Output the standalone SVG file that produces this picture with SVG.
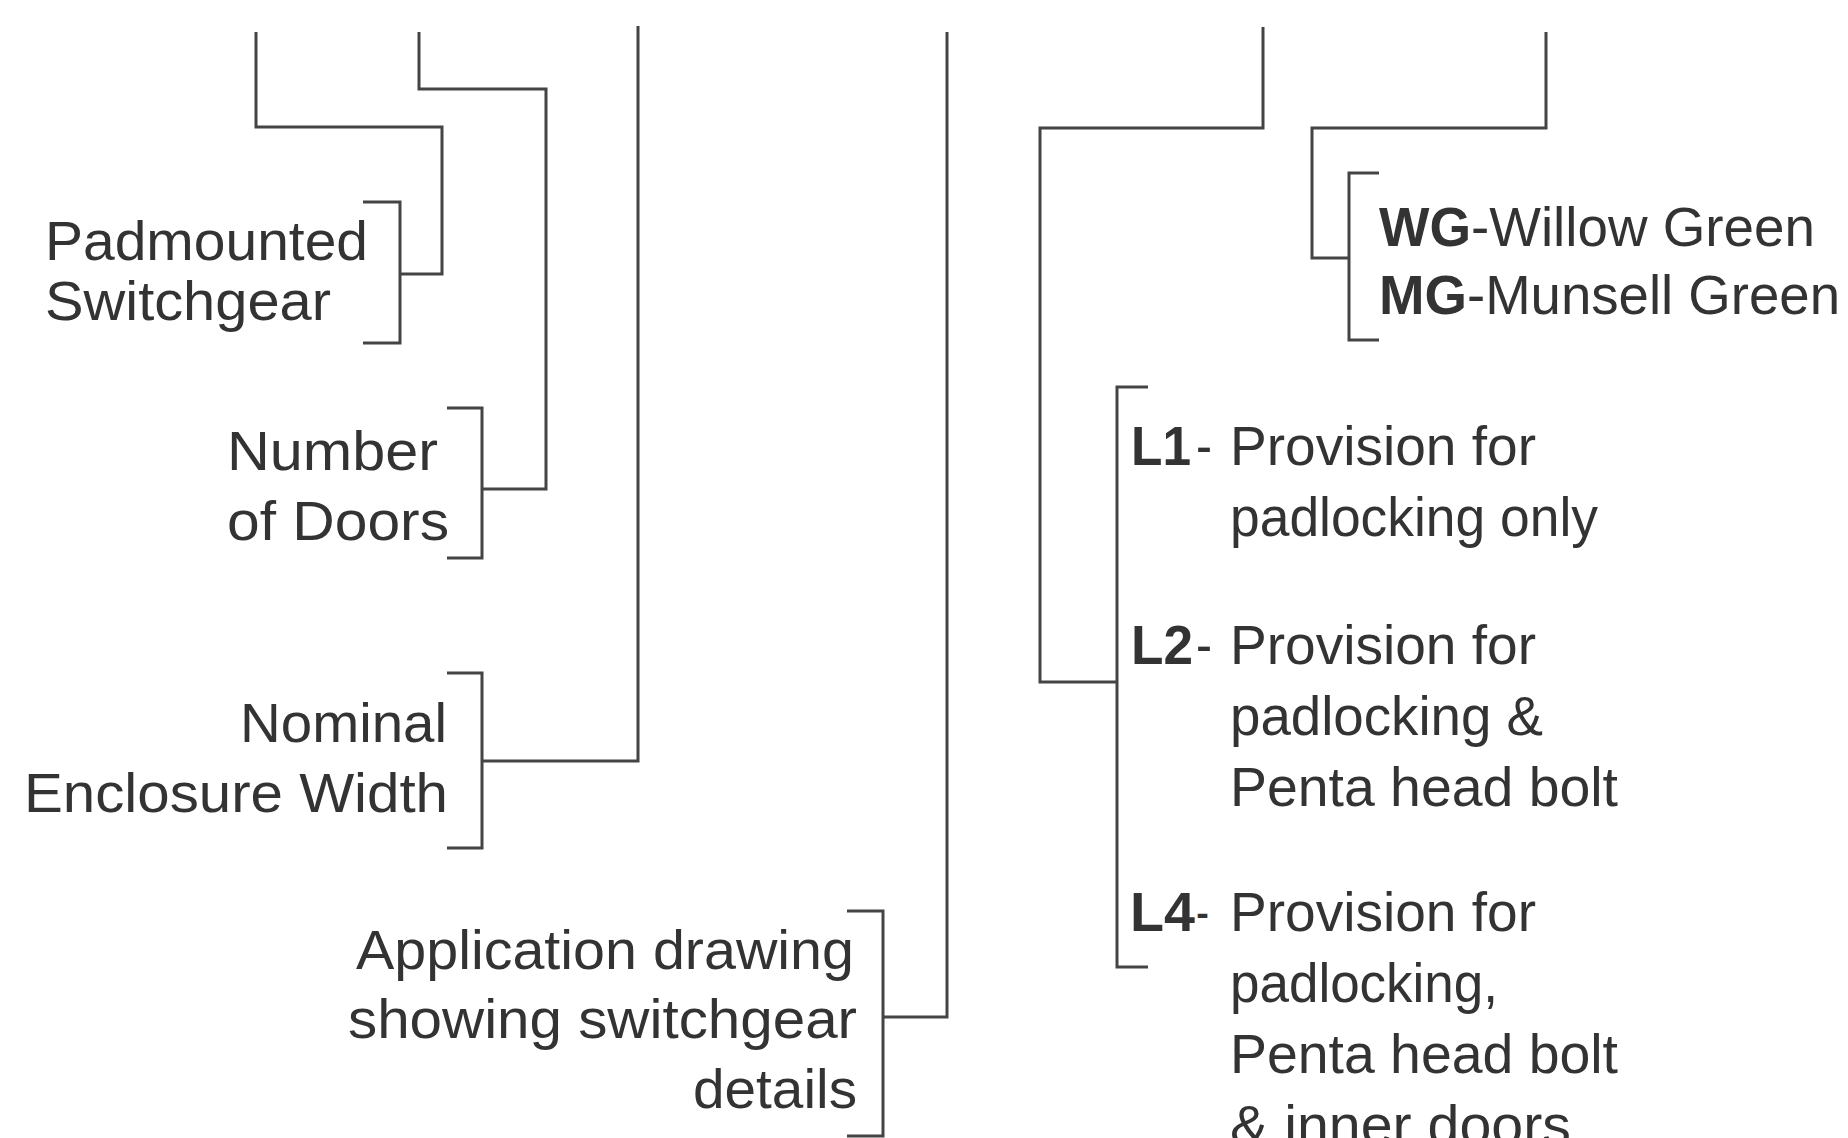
<svg xmlns="http://www.w3.org/2000/svg" width="1848" height="1138" viewBox="0 0 1848 1138">
<style>
.t{font-family:"Liberation Sans",Arial,sans-serif;font-size:56px;fill:#333;}
.b{font-weight:bold;}
.c{fill:none;stroke:#444;stroke-width:3;stroke-linejoin:miter;stroke-linecap:butt;}
</style>
<rect width="1848" height="1138" fill="#fff"/>
<g id="connectors" class="c">
<polyline points="256,32 256,127 442,127 442,274 400,274"/>
<polyline points="419,32 419,89 546,89 546,489 482,489"/>
<polyline points="638,26 638,761 482,761"/>
<polyline points="947,32 947,1017 883,1017"/>
<polyline points="1263,27 1263,128 1040,128 1040,682 1117,682"/>
<polyline points="1546,32 1546,128 1312,128 1312,258 1349,258"/>
</g>
<g id="padmounted">
<polyline class="c" points="363,202 400,202 400,343 363,343"/>
<text class="t" x="45" y="260" textLength="323" lengthAdjust="spacingAndGlyphs">Padmounted</text>
<text class="t" x="45" y="320" textLength="286" lengthAdjust="spacingAndGlyphs">Switchgear</text>
</g>
<g id="doors">
<polyline class="c" points="447,408 482,408 482,558 447,558"/>
<text class="t" x="227" y="470" textLength="211" lengthAdjust="spacingAndGlyphs">Number</text>
<text class="t" x="227" y="540" textLength="222" lengthAdjust="spacingAndGlyphs">of Doors</text>
</g>
<g id="width">
<polyline class="c" points="447,673 482,673 482,848 447,848"/>
<text class="t" x="240" y="742" textLength="207" lengthAdjust="spacingAndGlyphs">Nominal</text>
<text class="t" x="24" y="812" textLength="424" lengthAdjust="spacingAndGlyphs">Enclosure Width</text>
</g>
<g id="application">
<polyline class="c" points="847,911 883,911 883,1136 847,1136"/>
<text class="t" x="356" y="969" textLength="498" lengthAdjust="spacingAndGlyphs">Application drawing</text>
<text class="t" x="348" y="1038" textLength="509" lengthAdjust="spacingAndGlyphs">showing switchgear</text>
<text class="t" x="693" y="1108" textLength="164" lengthAdjust="spacingAndGlyphs">details</text>
</g>
<g id="colour">
<polyline class="c" points="1379,173 1349,173 1349,340 1379,340"/>
<text class="t b" x="1379" y="246" textLength="92" lengthAdjust="spacingAndGlyphs">WG</text>
<text class="t" x="1471" y="246" textLength="344" lengthAdjust="spacingAndGlyphs">-Willow Green</text>
<text class="t b" x="1379" y="314" textLength="88" lengthAdjust="spacingAndGlyphs">MG</text>
<text class="t" x="1467" y="314" textLength="373" lengthAdjust="spacingAndGlyphs">-Munsell Green</text>
</g>
<g id="locking">
<polyline class="c" points="1148,387 1117,387 1117,967 1148,967"/>
<text class="t b" x="1131" y="465" textLength="60" lengthAdjust="spacingAndGlyphs">L1</text>
<text class="t" x="1196" y="465" textLength="16" lengthAdjust="spacingAndGlyphs">-</text>
<text class="t" x="1230" y="465" textLength="306" lengthAdjust="spacingAndGlyphs">Provision for</text>
<text class="t" x="1230" y="536" textLength="368" lengthAdjust="spacingAndGlyphs">padlocking only</text>
<text class="t b" x="1131" y="664" textLength="62" lengthAdjust="spacingAndGlyphs">L2</text>
<text class="t" x="1196" y="664" textLength="16" lengthAdjust="spacingAndGlyphs">-</text>
<text class="t" x="1230" y="664" textLength="306" lengthAdjust="spacingAndGlyphs">Provision for</text>
<text class="t" x="1230" y="735" textLength="313" lengthAdjust="spacingAndGlyphs">padlocking &amp;</text>
<text class="t" x="1230" y="806" textLength="388" lengthAdjust="spacingAndGlyphs">Penta head bolt</text>
<text class="t b" x="1130" y="931" textLength="65" lengthAdjust="spacingAndGlyphs">L4</text>
<text class="t" x="1196" y="931" textLength="13" lengthAdjust="spacingAndGlyphs">-</text>
<text class="t" x="1230" y="931" textLength="306" lengthAdjust="spacingAndGlyphs">Provision for</text>
<text class="t" x="1230" y="1002" textLength="268" lengthAdjust="spacingAndGlyphs">padlocking,</text>
<text class="t" x="1230" y="1073" textLength="388" lengthAdjust="spacingAndGlyphs">Penta head bolt</text>
<text class="t" x="1230" y="1144" textLength="341" lengthAdjust="spacingAndGlyphs">&amp; inner doors</text>
</g>
</svg>
